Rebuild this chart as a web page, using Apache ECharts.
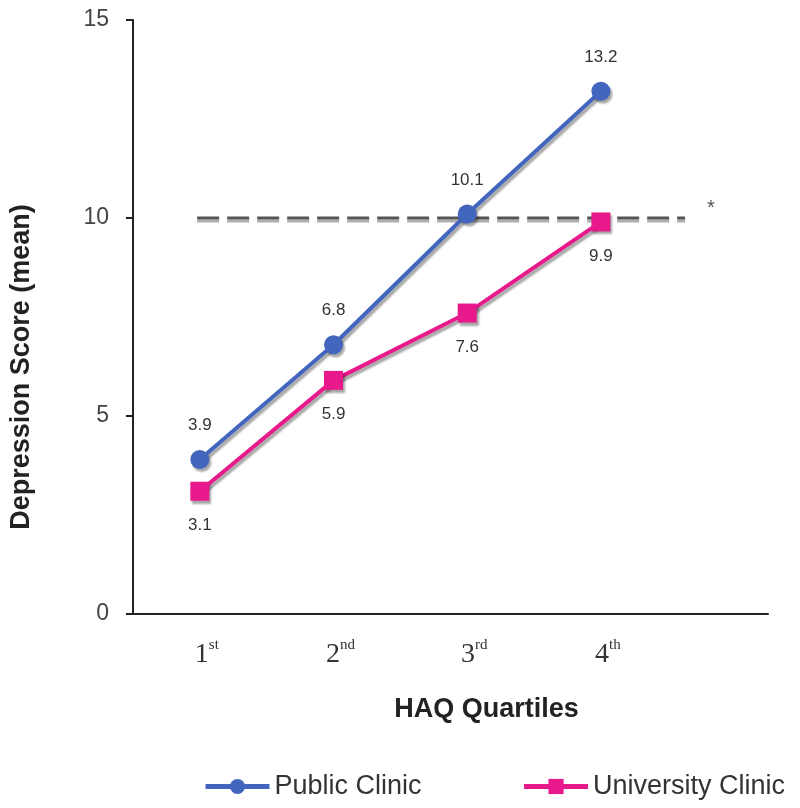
<!DOCTYPE html>
<html>
<head>
<meta charset="utf-8">
<script src="https://cdn.jsdelivr.net/npm/echarts@6/dist/echarts.min.js"></script>
<style>html,body{margin:0;padding:0;background:#fff}#c{width:800px;height:808px}</style>
</head>
<body>
<div id="c"></div>
<script>
const quartiles = [1, 2, 3, 4];
const quartileNums = ['1', '2', '3', '4'];
const quartileSups = ['st', 'nd', 'rd', 'th'];
const publicClinic = [3.9, 6.8, 10.1, 13.2];
const universityClinic = [3.1, 5.9, 7.6, 9.9];
const thresholdX = [0.98, 4.63];
const thresholdY = 10;
const yTicks = [0, 5, 10, 15];

const shadow = {shadowColor: 'rgba(0,0,0,0.35)', shadowBlur: 2, shadowOffsetX: 2, shadowOffsetY: 3};
const chart = echarts.init(document.getElementById('c'), null, {renderer: 'canvas'});
chart.setOption({
  animation: false,
  backgroundColor: '#fff',
  grid: {left: 133, right: 32, top: 20, bottom: 194},
  xAxis: {
    type: 'value', min: 0.5, max: 5.25,
    splitLine: {show: false},
    axisLine: {show: true, lineStyle: {color: '#222', width: 2}},
    axisTick: {show: false},
    axisLabel: {
      customValues: quartiles,
      margin: 24,
      formatter: v => { const i = quartiles.indexOf(v); return i < 0 ? '' : '{n|' + quartileNums[i] + '}{s|' + quartileSups[i] + '}'; },
      rich: {
        n: {fontFamily: 'Liberation Serif', fontSize: 28, color: '#333', padding: [0, 0, 0, 14]},
        s: {fontFamily: 'Liberation Serif', fontSize: 15, color: '#333', verticalAlign: 'top', padding: [0, 0, 18, 0]}
      }
    },
    name: 'HAQ Quartiles', nameLocation: 'middle', nameGap: 82,
    nameTextStyle: {fontFamily: 'Liberation Sans', fontWeight: 'bold', fontSize: 27, color: '#222', padding: [0, 0, 0, 72]}
  },
  yAxis: {
    type: 'value', min: yTicks[0], max: yTicks[yTicks.length - 1], interval: 5,
    splitLine: {show: false},
    axisLine: {show: true, lineStyle: {color: '#222', width: 2}},
    axisTick: {show: true, length: 7, lineStyle: {color: '#222', width: 2}},
    axisLabel: {fontFamily: 'Liberation Sans', fontSize: 23, color: '#444', margin: 24},
    name: 'Depression Score (mean)', nameLocation: 'middle', nameGap: 98,
    nameTextStyle: {fontFamily: 'Liberation Sans', fontWeight: 'bold', fontSize: 27, color: '#222', padding: [0, 100, 0, 0]}
  },
  legend: {
    left: 198, top: 768, itemWidth: 64, itemHeight: 19, itemGap: 100,
    lineStyle: {width: 5},
    textStyle: {fontFamily: 'Liberation Sans', fontSize: 27, color: '#333'},
    data: ['Public Clinic', 'University Clinic']
  },
  series: [
    {
      name: 'threshold', type: 'line', silent: true, symbol: 'none',
      data: thresholdX.map(x => [x, thresholdY]),
      lineStyle: {color: '#555', width: 3, type: [22, 8], shadowColor: 'rgba(120,120,120,0.6)', shadowBlur: 0, shadowOffsetY: 3},
      endLabel: {show: true, formatter: '*', fontSize: 20, color: '#555', offset: [14, -10]},
      z: 1
    },
    {
      name: 'Public Clinic', type: 'line', symbol: 'circle', symbolSize: 19,
      data: quartiles.map((q, i) => [q, publicClinic[i]]),
      lineStyle: Object.assign({color: '#4266BE', width: 4}, shadow),
      itemStyle: Object.assign({color: '#4266BE'}, shadow),
      label: {show: true, position: 'top', distance: 16, fontFamily: 'Liberation Sans', fontSize: 17, color: '#333', formatter: p => p.value[1].toFixed(1)},
      z: 3
    },
    {
      name: 'University Clinic', type: 'line', symbol: 'rect', symbolSize: 19,
      data: quartiles.map((q, i) => [q, universityClinic[i]]),
      lineStyle: Object.assign({color: '#E8198B', width: 4}, shadow),
      itemStyle: Object.assign({color: '#E8198B'}, shadow),
      label: {show: true, position: 'bottom', distance: 16, fontFamily: 'Liberation Sans', fontSize: 17, color: '#333', formatter: p => p.value[1].toFixed(1)},
      z: 3
    }
  ]
});
</script>
</body>
</html>
